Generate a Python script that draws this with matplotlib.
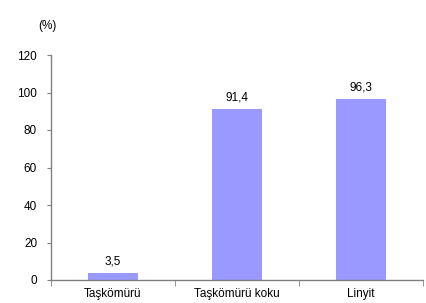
import matplotlib
matplotlib.use("Agg")
import matplotlib.pyplot as plt
import numpy as np

plt.rcParams["font.family"] = ["Liberation Sans", "DejaVu Sans"]

# 数据
categories = ["Taşkömürü", "Taşkömürü koku", "Linyit"]
values = [3.5, 91.4, 96.3]
value_labels = ["3,5", "91,4", "96,3"]
yticks = [0, 20, 40, 60, 80, 100, 120]

FS = 8.5

fig = plt.figure(figsize=(4.27, 3.03), dpi=100)
ax = fig.add_axes([51 / 427, 23 / 303, 372 / 427, 225 / 303])

x = np.arange(len(categories))
ax.bar(x, values, width=0.4, color="#9999FF", zorder=2)

for xi, v, lab in zip(x, values, value_labels):
    ax.text(xi, v + 3, lab, ha="center", va="bottom", fontsize=FS, color="black")

ax.set_xlim(-0.5, len(categories) - 0.5)
ax.set_ylim(0, 120)
ax.set_yticks(yticks)
ax.set_yticklabels([str(t) for t in yticks], fontsize=FS)

# 类别标签居中，刻度线在分界处
ax.set_xticks(x)
ax.set_xticklabels(categories, fontsize=FS)
ax.tick_params(axis="x", which="major", length=0, pad=6)
ax.set_xticks(np.arange(-0.5, len(categories)), minor=True)
ax.tick_params(axis="x", which="minor", length=4, color="#808080", direction="out")
ax.tick_params(axis="y", length=3, color="#808080", direction="out", pad=7)

for s in ["top", "right"]:
    ax.spines[s].set_visible(False)
for s in ["left", "bottom"]:
    ax.spines[s].set_color("#808080")
    ax.spines[s].set_linewidth(1.0)

fig.text(47 / 427, 1 - 26 / 303, "(%)", ha="center", va="center", fontsize=FS)

fig.savefig("out.png", dpi=100)
